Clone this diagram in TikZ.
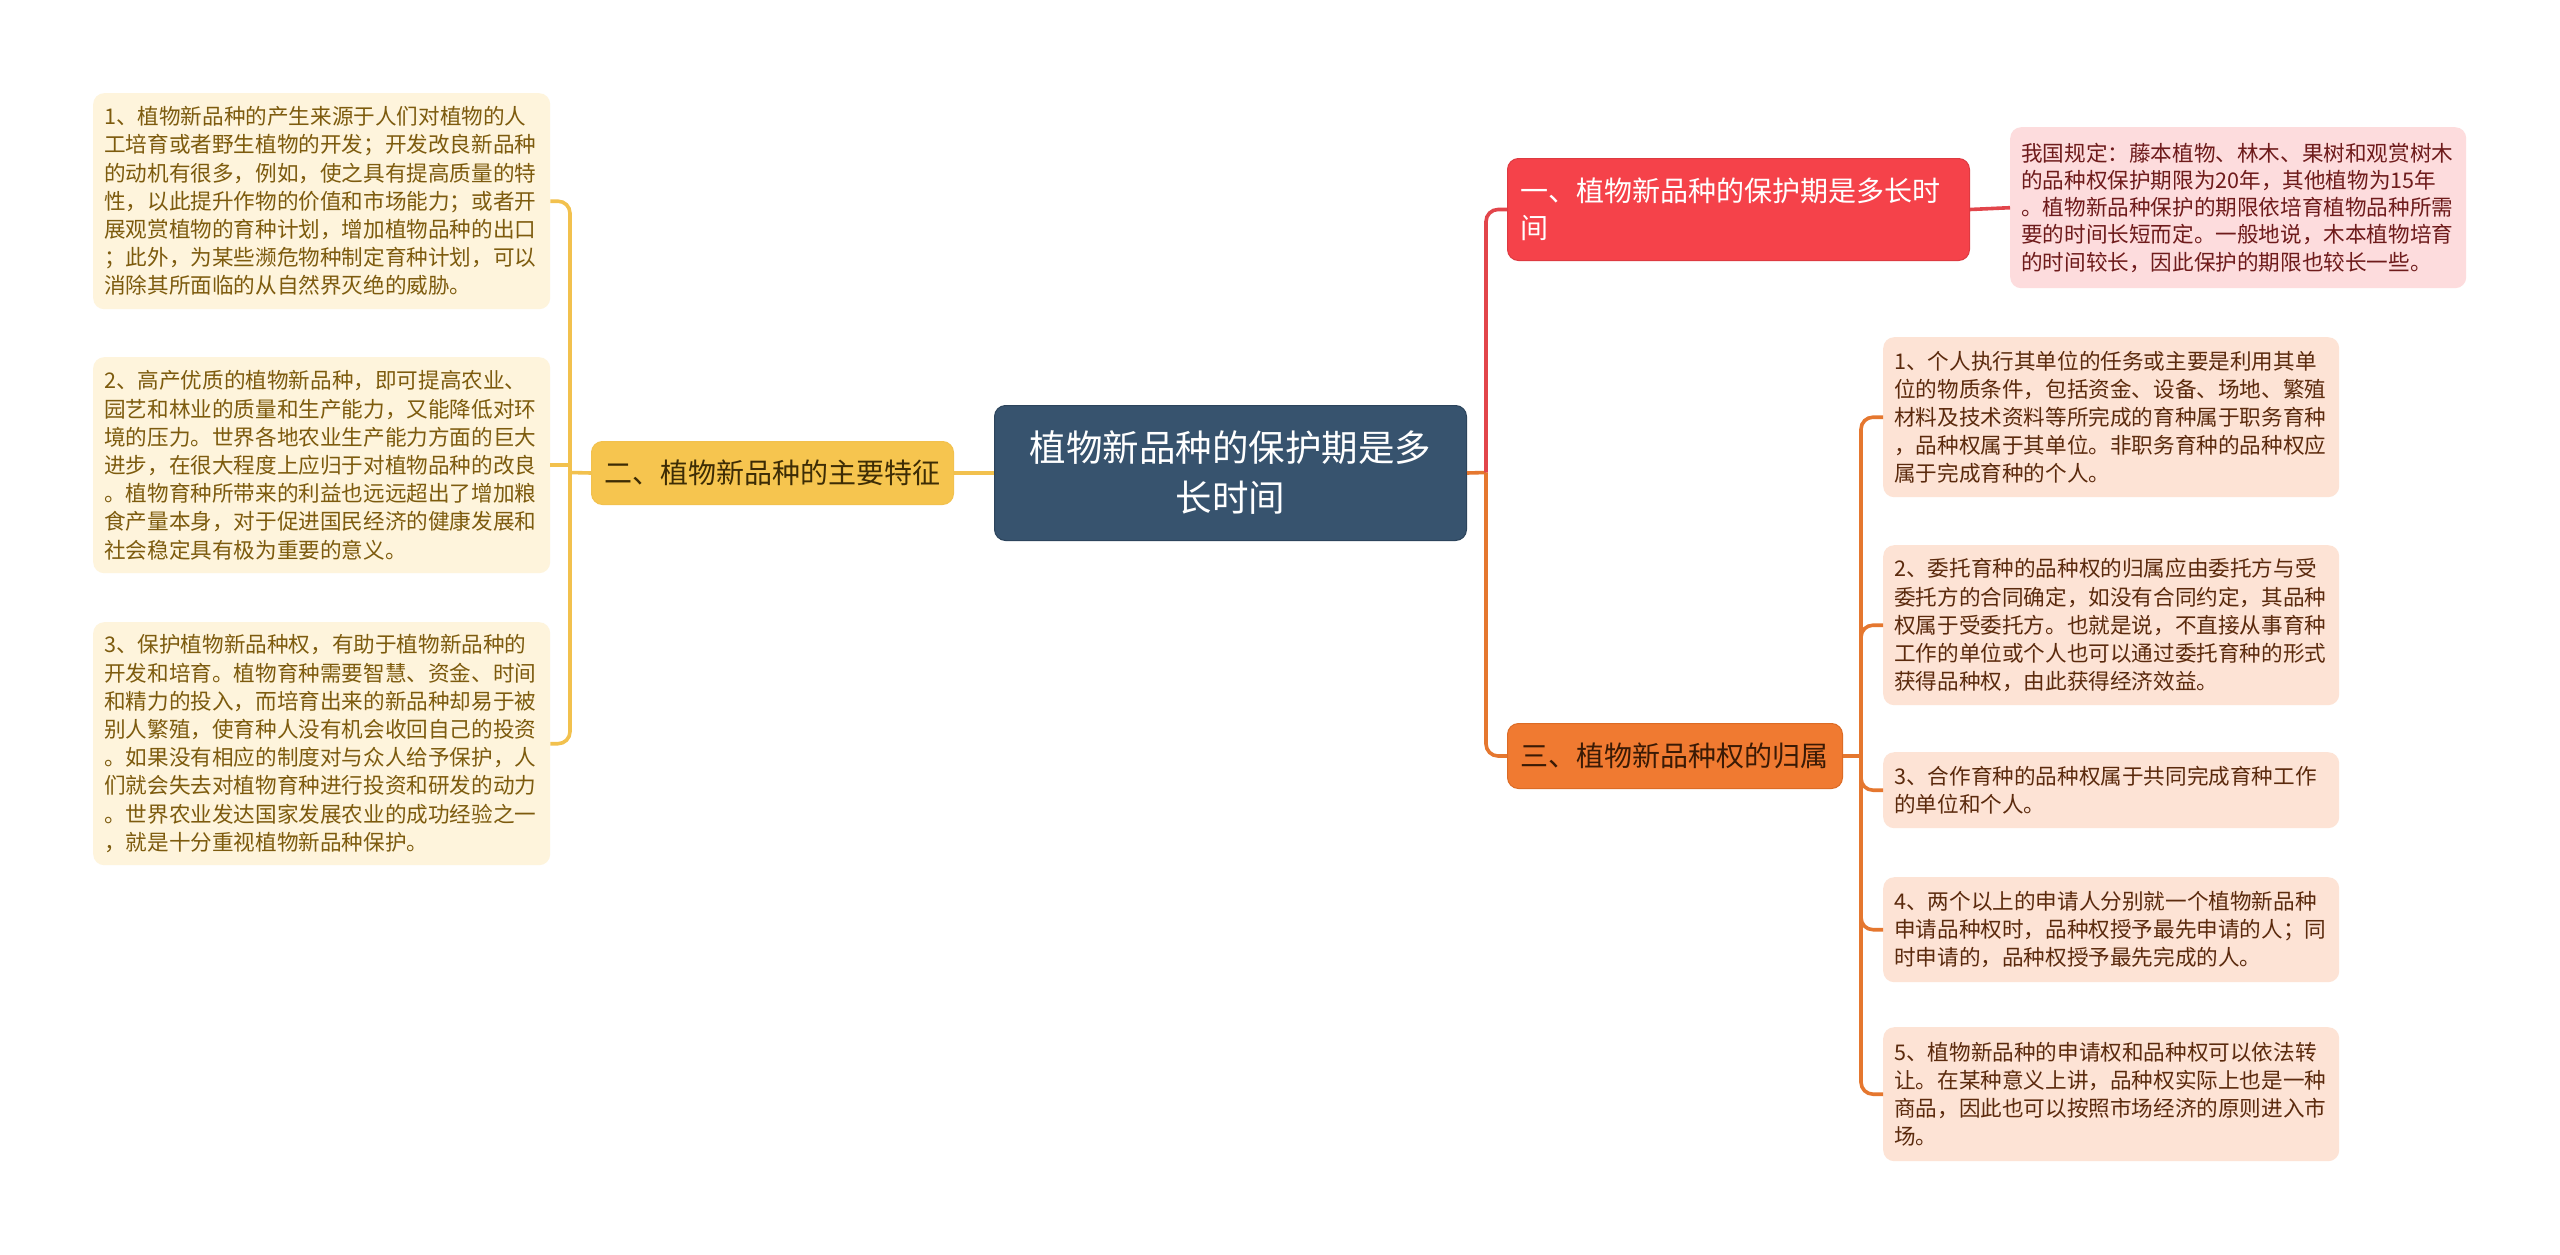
\documentclass[tikz,border=0pt]{standalone}
\usepackage{fontspec}
\setmainfont{Noto Sans CJK SC}
\definecolor{rootfill}{HTML}{37536E}
\definecolor{rootdraw}{HTML}{2C445C}
\definecolor{yfill}{HTML}{F6C54F}
\definecolor{yline}{HTML}{F2C14E}
\definecolor{ytext}{HTML}{3D2C05}
\definecolor{lfill}{HTML}{FEF4DC}
\definecolor{ltext}{HTML}{7D5B0E}
\definecolor{rfill}{HTML}{F5424A}
\definecolor{rdraw}{HTML}{DE3A41}
\definecolor{rline}{HTML}{E2454B}
\definecolor{rlfill}{HTML}{FDDCDD}
\definecolor{rltext}{HTML}{6E1B1B}
\definecolor{ofill}{HTML}{F07A31}
\definecolor{odraw}{HTML}{DC6B25}
\definecolor{oline}{HTML}{E5772F}
\definecolor{otext}{HTML}{3A1A05}
\definecolor{olfill}{HTML}{FDE3D5}
\definecolor{oltext}{HTML}{5B2A0D}
\tikzset{
  box/.style={anchor=north west, rounded corners=11pt, inner xsep=11pt, inner ysep=0pt, align=left},
  rootbox/.style={box, fill=rootfill, draw=rootdraw, line width=1pt, text=white, align=center,
     font=\fontsize{36.5pt}{50pt}\selectfont},
  branchbox/.style={box, inner xsep=13pt, font=\fontsize{28pt}{37pt}\selectfont},
  leafbox/.style={box, font=\fontsize{21.6pt}{28.2pt}\selectfont},
  yleaf/.style={leafbox, fill=lfill, text=ltext},
  oleaf/.style={leafbox, fill=olfill, text=oltext},
  conn/.style={line width=3.6pt, rounded corners=12pt},
}
\begin{document}
\begin{tikzpicture}[x=1pt,y=-1pt]
\useasboundingbox[fill=white] (0,0) rectangle (2560,1255);

% root
\node[rootbox, minimum width=472pt, minimum height=135pt, text width=440pt] (root) at (994,405)
  {植物新品种的保护期是多\\长时间};

% left branch
\node[branchbox, fill=yfill, draw=yline, line width=1pt, text=ytext, minimum width=362pt, minimum height=63pt, text width=336pt] (b2) at (591,441)
  {二、植物新品种的主要特征};

\node[yleaf, minimum width=457pt, minimum height=216pt, text width=435pt] (l1) at (93,93)
  {1、植物新品种的产生来源于人们对植物的人\\工培育或者野生植物的开发；开发改良新品种\\的动机有很多，例如，使之具有提高质量的特\\性，以此提升作物的价值和市场能力；或者开\\展观赏植物的育种计划，增加植物品种的出口\\；此外，为某些濒危物种制定育种计划，可以\\消除其所面临的从自然界灭绝的威胁。};
\node[yleaf, minimum width=457pt, minimum height=216pt, text width=435pt] (l2) at (93,357)
  {2、高产优质的植物新品种，即可提高农业、\\园艺和林业的质量和生产能力，又能降低对环\\境的压力。世界各地农业生产能力方面的巨大\\进步，在很大程度上应归于对植物品种的改良\\。植物育种所带来的利益也远远超出了增加粮\\食产量本身，对于促进国民经济的健康发展和\\社会稳定具有极为重要的意义。};
\node[yleaf, minimum width=457pt, minimum height=243pt, text width=435pt] (l3) at (93,622)
  {3、保护植物新品种权，有助于植物新品种的\\开发和培育。植物育种需要智慧、资金、时间\\和精力的投入，而培育出来的新品种却易于被\\别人繁殖，使育种人没有机会收回自己的投资\\。如果没有相应的制度对与众人给予保护，人\\们就会失去对植物育种进行投资和研发的动力\\。世界农业发达国家发展农业的成功经验之一\\，就是十分重视植物新品种保护。};

% right branch 1
\node[branchbox, fill=rfill, draw=rdraw, line width=1pt, text=white, minimum width=462pt, minimum height=102pt, text width=436pt] (b1) at (1507,158)
  {一、植物新品种的保护期是多长时\\间};
\node[leafbox, fill=rlfill, text=rltext, minimum width=456pt, minimum height=161pt, text width=434pt, font=\fontsize{21.6pt}{27.3pt}\selectfont] (rl) at (2010,127)
  {我国规定：藤本植物、林木、果树和观赏树木\\的品种权保护期限为20年，其他植物为15年\\。植物新品种保护的期限依培育植物品种所需\\要的时间长短而定。一般地说，木本植物培育\\的时间较长，因此保护的期限也较长一些。};

% right branch 3
\node[branchbox, fill=ofill, draw=odraw, line width=1pt, text=otext, minimum width=335pt, minimum height=65pt, text width=309pt] (b3) at (1507,723)
  {三、植物新品种权的归属};

\node[oleaf, minimum width=456pt, minimum height=160pt, text width=434pt] (o1) at (1883,337)
  {1、个人执行其单位的任务或主要是利用其单\\位的物质条件，包括资金、设备、场地、繁殖\\材料及技术资料等所完成的育种属于职务育种\\，品种权属于其单位。非职务育种的品种权应\\属于完成育种的个人。};
\node[oleaf, minimum width=456pt, minimum height=160pt, text width=434pt] (o2) at (1883,545)
  {2、委托育种的品种权的归属应由委托方与受\\委托方的合同确定，如没有合同约定，其品种\\权属于受委托方。也就是说，不直接从事育种\\工作的单位或个人也可以通过委托育种的形式\\获得品种权，由此获得经济效益。};
\node[oleaf, minimum width=456pt, minimum height=76pt, text width=434pt] (o3) at (1883,752)
  {3、合作育种的品种权属于共同完成育种工作\\的单位和个人。};
\node[oleaf, minimum width=456pt, minimum height=105pt, text width=434pt] (o4) at (1883,877)
  {4、两个以上的申请人分别就一个植物新品种\\申请品种权时，品种权授予最先申请的人；同\\时申请的，品种权授予最先完成的人。};
\node[oleaf, minimum width=456pt, minimum height=134pt, text width=434pt] (o5) at (1883,1027)
  {5、植物新品种的申请权和品种权可以依法转\\让。在某种意义上讲，品种权实际上也是一种\\商品，因此也可以按照市场经济的原则进入市\\场。};

% connectors left
\coordinate (lj) at (570,472.5);
\draw[conn, yline] (root.west) -- (b2.east);
\draw[conn, yline] (b2.west) -- (lj);
\draw[conn, yline] (lj) |- (l1.east);
\draw[conn, yline, rounded corners=0pt] (lj) |- (l2.east);
\draw[conn, yline] (lj) |- (l3.east);

% connectors right
\coordinate (rj) at (1486,472.5);
\draw[conn, oline] (root.east) -- (rj);
\draw[conn, rline] (rj) |- (b1.west);
\draw[conn, oline] (rj) |- (b3.west);
\draw[conn, rline] (b1.east) -- (rl.west);

\coordinate (oj) at (1861,756);
\draw[conn, oline] (b3.east) -- (oj);
\draw[conn, oline] (oj) |- (o1.west);
\draw[conn, oline] (oj) |- (o2.west);
\draw[conn, oline] (oj) |- (o3.west);
\draw[conn, oline] (oj) |- (o4.west);
\draw[conn, oline] (oj) |- (o5.west);
\end{tikzpicture}
\end{document}
